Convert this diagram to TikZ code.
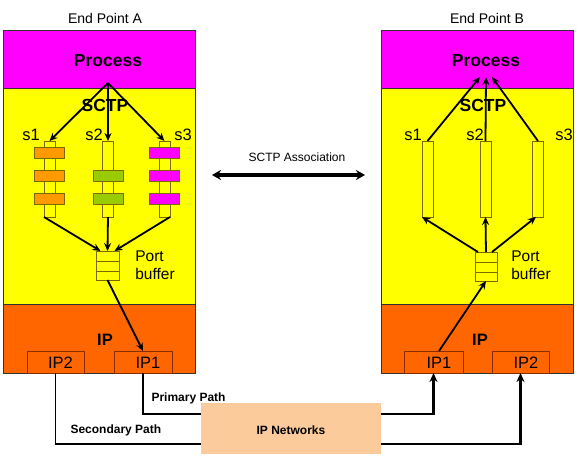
\documentclass[tikz,border=0pt]{standalone}
\usepackage{fontspec}
\setmainfont{Liberation Sans}
\usetikzlibrary{arrows.meta}
\definecolor{mag}{HTML}{FF00FF}
\definecolor{yel}{HTML}{FFFF00}
\definecolor{ipor}{HTML}{FF6600}
\definecolor{blkor}{HTML}{FF9900}
\definecolor{blkgr}{HTML}{99CC00}
\definecolor{peach}{HTML}{FBCB9B}
\definecolor{colline}{HTML}{7A6A00}
\definecolor{ipline}{HTML}{8A2E00}
\tikzset{
  layer/.style={draw=black!80, line width=0.8pt, minimum width=192pt, inner sep=0pt, outer sep=0pt},
  colbox/.style={draw=colline, fill=yel, line width=0.8pt, minimum width=11pt, minimum height=76pt, inner sep=0pt, outer sep=0pt},
  blk/.style={draw=colline, line width=0.7pt, minimum width=30pt, minimum height=11pt, inner sep=0pt},
  bufbox/.style={draw=colline, fill=yel, line width=0.8pt, minimum width=23pt, minimum height=29pt, inner sep=0pt, outer sep=0pt},
  ipbox/.style={draw=ipline, fill=ipor, line width=0.8pt, minimum width=58pt, minimum height=22pt, inner sep=0pt, outer sep=0pt},
  arr/.style={-{Stealth[length=8pt,width=7pt]}, line width=1.8pt},
  big/.style={font=\fontsize{17.5}{19}\selectfont\bfseries},
  lbl/.style={font=\fontsize{16.5}{18}\selectfont},
  small/.style={font=\fontsize{12}{14}\selectfont\bfseries},
  netline/.style={line width=1.4pt},
  netarr/.style={line width=2.4pt, -{Stealth[length=9pt,width=8pt]}}
}
\begin{document}
\begin{tikzpicture}[x=1pt,y=-1pt]
\useasboundingbox (0,0) rectangle (582,456);
% ---------- End point A ----------
\node[font=\fontsize{14}{16}\selectfont] (titA) at (105,18) {End Point A};
\node[layer, fill=mag, minimum height=58pt] (procA) at (99,59) {};
\node[layer, fill=yel, minimum height=216pt] (sctpA) at (99,196) {};
\node[layer, fill=ipor, minimum height=69pt] (ipA) at (99,338.5) {};
\node[big] (procAt) at (108,61) {Process};
\node[big] (sctpAt) at (105,105) {SCTP};
\node[lbl] (s1A) at (31,135) {s1};
\node[lbl] (s2A) at (94,135) {s2};
\node[lbl] (s3A) at (183,135) {s3};
\node[colbox] (colA1) at (49.5,179) {};
\node[colbox] (colA2) at (108,179) {};
\node[colbox] (colA3) at (164.5,179) {};
\foreach \y [count=\i] in {152.5,175.5,199}{
  \node[blk, fill=blkor] (bA1\i) at (49.5,\y) {};
  \node[blk, fill=mag] (bA3\i) at (164.5,\y) {};
}
\node[blk, fill=blkgr] (bA22) at (108,175.5) {};
\node[blk, fill=blkgr] (bA23) at (108,199) {};
\node[bufbox] (bufA) at (107.5,265.5) {};
\draw[colline, line width=0.8pt] (bufA.west |- 0,261) -- (bufA.east |- 0,261)
  (bufA.west |- 0,271) -- (bufA.east |- 0,271);
\node[font=\fontsize{15.5}{18}\selectfont, align=left] (pbA) at (155,265) {Port\\buffer};
\node[big, font=\fontsize{16.5}{18}\selectfont\bfseries] (ipAt) at (105,340) {IP};
\node[ipbox, minimum width=57pt] (ipA2) at (55.5,362) {};
\node[ipbox] (ipA1) at (143,362) {};
\node[lbl] at ([xshift=5pt,yshift=-1pt]ipA2.center) {IP2};
\node[lbl] at ([xshift=5pt,yshift=-1pt]ipA1.center) {IP1};
\coordinate (oA) at (108,83);
\draw[arr] (oA) -- (colA1.north);
\draw[arr] (oA) -- (colA2.north);
\draw[arr] (oA) -- (colA3.north);
\draw[arr] (colA1.south west) -- ([xshift=-7pt]bufA.north);
\draw[arr] (colA2.south) -- (bufA.north);
\draw[arr] (colA3.south east) -- ([xshift=7pt]bufA.north);
\draw[arr] (bufA.south) -- (ipA1.north);
% ---------- End point B ----------
\node[font=\fontsize{14}{16}\selectfont] (titB) at (487,18) {End Point B};
\node[layer, fill=mag, minimum height=58pt] (procB) at (477,59) {};
\node[layer, fill=yel, minimum height=216pt] (sctpB) at (477,196) {};
\node[layer, fill=ipor, minimum height=69pt] (ipB) at (477,338.5) {};
\node[big] (procBt) at (486,61) {Process};
\node[big] (sctpBt) at (483,105) {SCTP};
\node[lbl] (s1B) at (413,135) {s1};
\node[lbl] (s2B) at (475,135) {s2};
\node[lbl] (s3B) at (564,135) {s3};
\node[colbox] (colB1) at (427.5,179) {};
\node[colbox] (colB2) at (485.5,179) {};
\node[colbox] (colB3) at (538,179) {};
\node[bufbox, minimum width=22pt] (bufB) at (486,266.5) {};
\draw[colline, line width=0.8pt] (bufB.west |- 0,262) -- (bufB.east |- 0,262)
  (bufB.west |- 0,272) -- (bufB.east |- 0,272);
\node[font=\fontsize{15.5}{18}\selectfont, align=left] (pbB) at (531,265) {Port\\buffer};
\node[big, font=\fontsize{16.5}{18}\selectfont\bfseries] (ipBt) at (480,340) {IP};
\node[ipbox, minimum width=59pt] (ipB1) at (433.5,362) {};
\node[ipbox, minimum width=57pt] (ipB2) at (520.5,362) {};
\node[lbl] at ([xshift=5.5pt,yshift=-1pt]ipB1.center) {IP1};
\node[lbl] at ([xshift=5.5pt,yshift=-1pt]ipB2.center) {IP2};
\coordinate (tB1) at (480,77);
\coordinate (tB2) at (486,77);
\coordinate (tB3) at (492,77);
\draw[arr] (colB1.north) -- (tB1);
\draw[arr] (colB2.north) -- (tB2);
\draw[arr] (colB3.north) -- (tB3);
\draw[arr] ([xshift=-8pt]bufB.north) -- (colB1.south west);
\draw[arr] (bufB.north) -- (colB2.south);
\draw[arr] ([xshift=6pt]bufB.north) -- ([xshift=-2pt]colB3.south);
\coordinate (ipB1t) at (439,351);
\draw[arr] (ipB1t) -- (bufB.south);
% ---------- association ----------
\node[font=\fontsize{12}{14}\selectfont] (assoc) at (297,157) {SCTP Association};
\coordinate (asL) at (212,175);
\coordinate (asR) at (365,175);
\draw[line width=3.2pt, {Stealth[length=9pt,width=10pt]}-{Stealth[length=9pt,width=10pt]}] (asL) -- (asR);
% ---------- network ----------
\node[fill=peach, minimum width=180pt, minimum height=51pt, inner sep=0pt] (net) at (291,428.5) {};
\node[small] (nett) at (291,430) {IP Networks};
\coordinate (priY) at (0,414);
\coordinate (secY) at (0,444);
\draw[netline] (ipA1.south) |- (net.west |- priY);
\draw[netline] (ipA2.south) |- (net.west |- secY);
\draw[netarr] (net.east |- priY) -| (ipB1.south);
\draw[netarr] (net.east |- secY) -| (ipB2.south);
\node[small, anchor=west] (prit) at (148,398) {Primary Path};
\node[small, anchor=west] (sect) at (67,430) {Secondary Path};
\end{tikzpicture}
\end{document}
